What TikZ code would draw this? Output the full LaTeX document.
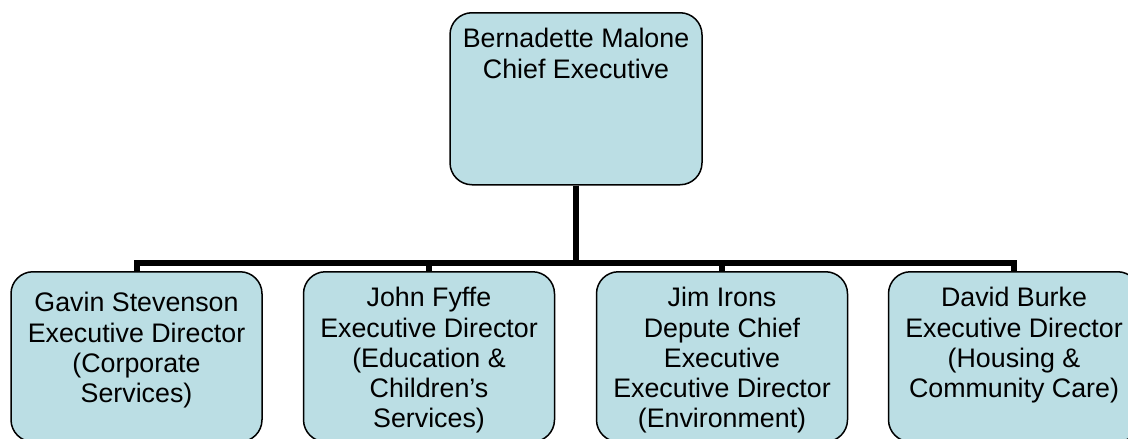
\documentclass[tikz,border=0pt]{standalone}
\usepackage{fontspec}
\setmainfont{Liberation Sans}
\definecolor{boxblue}{RGB}{187,222,228}
\tikzset{
  post/.style={draw=black, line width=1.5pt, fill=boxblue, rounded corners=22pt,
    inner sep=0pt, align=center, anchor=north,
    font=\fontsize{26.8pt}{30.25pt}\selectfont},
  chief/.style={post, minimum width=252pt, text height=65.25pt, text depth=106.75pt},
  director/.style 2 args={post, minimum width=251pt, text height=#1pt, text depth=#2pt},
  link/.style={line width=6pt, line join=miter},
}
\begin{document}
\begin{tikzpicture}[x=1pt,y=-1pt]
\useasboundingbox (0,0) rectangle (1128,439);
% chief executive
\node[chief] (malone) at (576,12) {Bernadette Malone\\Chief Executive};
% executive directors
\node[director={130.75}{39.25}] (stevenson) at (136.5,271)
  {Gavin Stevenson\\Executive Director\\(Corporate\\Services)};
\node[director={156}{14}] (fyffe) at (429,271)
  {John Fyffe\\Executive Director\\(Education \&\\Children’s\\Services)};
\node[director={156}{14}] (irons) at (722,271)
  {Jim Irons\\Depute Chief\\Executive\\Executive Director\\(Environment)};
\node[director={125.75}{44.25}] (burke) at (1014,271)
  {David Burke\\Executive Director\\(Housing \&\\Community Care)};
% connectors
\foreach \staff in {stevenson,fyffe,irons,burke}
  \draw[link] (malone.south) -- ++(0,77) -| (\staff.north);
\end{tikzpicture}
\end{document}
